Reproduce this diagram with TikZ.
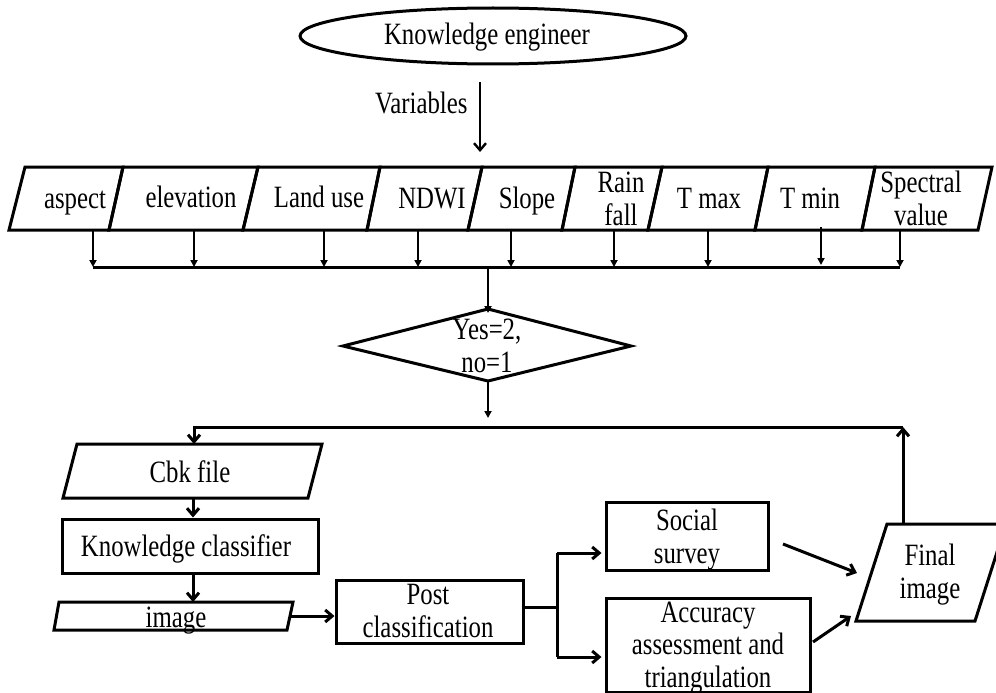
\documentclass[tikz,border=0pt]{standalone}
\usepackage{fontspec}
\setmainfont{Liberation Serif}[FakeStretch=0.8]
\usetikzlibrary{arrows.meta}
\begin{document}
\begin{tikzpicture}[x=1pt,y=-1pt,line width=3pt,
  txt/.style={font=\fontsize{31}{32.5}\selectfont, align=center, inner sep=0pt, anchor=base},
  arr/.style={-{Straight Barb[length=7pt 0,width=12pt 0]}},
  sarr/.style={-{Triangle[length=7pt 0,width=7pt 0]}},
  box/.style={draw, rectangle, inner sep=0pt}
]
\useasboundingbox (0,0) rectangle (996,693);

% Knowledge engineer
\draw (493,36) ellipse [x radius=193, y radius=28];
\node[txt] (ke) at (487,45) {Knowledge engineer};
\coordinate (v1) at (480,82);
\coordinate (v2) at (480,152);
\draw[arr,line width=2.4pt] (v1) -- (v2);
\node[txt,anchor=base east] (var) at (469,113) {Variables};

% variable row
\foreach \bl/\tl/\br/\tr in {9/25/109/123, 109/123/243/258, 243/258/367/380, 367/380/468/482,
  468/482/562/575, 562/575/648/662, 648/662/755/768, 755/768/862/875, 862/875/978/992}
  \draw (\bl,230) -- (\tl,167) -- (\tr,167) -- (\br,230) -- cycle;
\node[txt] (asp) at (75,208) {aspect};
\node[txt] (ele) at (191,207) {elevation};
\node[txt] (lu) at (319,207) {Land use};
\node[txt] (ndwi) at (432,208) {NDWI};
\node[txt] (slope) at (527,208) {Slope};
\node[txt] (rain) at (621,225) {Rain\\fall};
\node[txt] (tmax) at (709,208) {T max};
\node[txt] (tmin) at (810,208) {T min};
\node[txt] (spec) at (921,225) {Spectral\\value};

% drops to bus
\foreach \n/\x in {1/93,2/194,3/324,4/418,5/511,6/614,7/708,9/900}{
  \coordinate (d\n) at (\x,230);
  \coordinate (b\n) at (\x,267);
  \draw[sarr,line width=2.4pt] (d\n) -- (b\n);
}
\coordinate (d8) at (821,227);
\coordinate (b8) at (821,265);
\draw[sarr,line width=2.4pt] (d8) -- (b8);
\draw (b1) -- (b9);

% decision
\coordinate (bm) at (488,267);
\coordinate (dtop) at (488,309);
\coordinate (dleft) at (343,346);
\coordinate (dright) at (631,346);
\coordinate (dbot) at (488,381);
\draw (dtop) -- (dright) -- (dbot) -- (dleft) -- cycle;
\node[txt] (dec) at (487,372) {Yes=2,\\no=1};
\draw[sarr,line width=2.4pt] (bm) -- ([yshift=-4pt]dtop);
\coordinate (fb) at (488,418);
\draw[sarr,line width=2.4pt] (dbot) -- (fb);

% feedback line
\coordinate (fl) at (194,427);
\coordinate (fr) at (903,427);
\coordinate (cbktop) at (194,444);
\draw[arr] (fr) -- (fl) -- (cbktop);

% Cbk file
\draw (77,444) -- (322,444) -- (308,498) -- (63,498) -- cycle;
\node[txt] (cbk) at (190,482) {Cbk file};
\coordinate (cbkbot) at (193,498);

% Knowledge classifier
\node[box, minimum width=256pt, minimum height=54pt] (kc) at (190,546) {};
\node[txt] (kct) at (186,556) {Knowledge classifier};
\draw[arr] (cbkbot) -- (kc.north -| cbkbot);

% image
\draw (59,602) -- (293,602) -- (287,630) -- (54,630) -- cycle;
\node[txt] (img) at (176,627) {image};
\coordinate (imgtop) at (193,602);
\coordinate (imgr) at (290,616);
\draw[arr] (kc.south -| imgtop) -- (imgtop);

% Post classification
\node[box, minimum width=187pt, minimum height=63pt] (post) at (429.5,611.5) {};
\node[txt] (postt) at (428,637) {Post\\classification};
\draw[arr] (imgr) -- (post.west |- imgr);

% Social survey / Accuracy
\node[box, minimum width=162pt, minimum height=68pt] (soc) at (687,536) {};
\node[txt] (soct) at (687,563) {Social\\survey};
\node[box, minimum width=204pt, minimum height=94pt] (acc) at (708,645) {};
\node[txt] (acct) at (708,687) {Accuracy\\assessment and\\triangulation};
\coordinate (pr) at (523,607);
\coordinate (br) at (557,607);
\coordinate (bt) at (557,553);
\coordinate (bb) at (557,657);
\draw (pr) -- (br);
\draw (bt) -- (bb);
\draw[arr] (bt) -- ([xshift=-3pt]soc.west |- bt);
\draw[arr] (bb) -- ([xshift=-3pt]acc.west |- bb);

% Final image
\draw (887,524) -- (1006,524) -- (975,621) -- (856,621) -- cycle;
\node[txt] (fin) at (930,598) {Final\\image};
\coordinate (fintop) at (903,524);
\draw[arr] (fintop) -- (fr);
\coordinate (s1) at (783,544);
\coordinate (s2) at (857,573);
\draw[arr] (s1) -- (s2);
\coordinate (a1) at (813,642);
\coordinate (a2) at (851,616);
\draw[arr] (a1) -- (a2);
\end{tikzpicture}
\end{document}
